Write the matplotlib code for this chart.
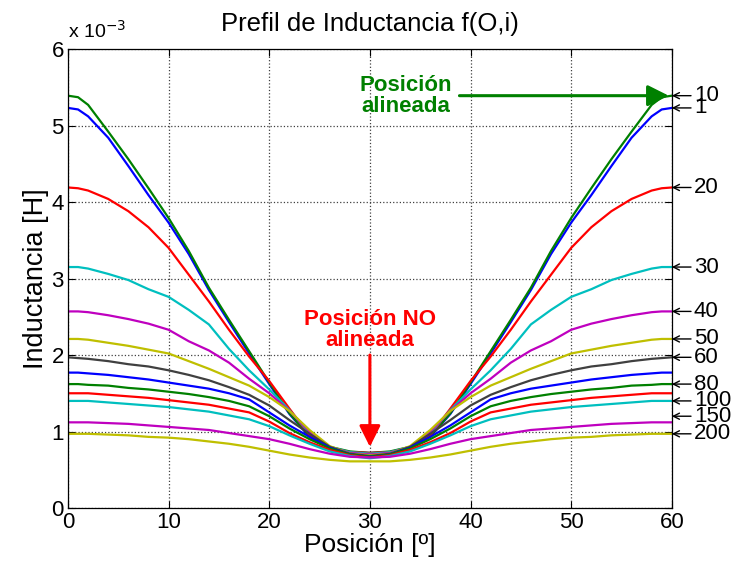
import numpy as np
import matplotlib
matplotlib.use("Agg")
from matplotlib import pyplot as plt

plt.rcParams['font.family'] = ['Liberation Sans', 'DejaVu Sans']

# posición [º] (mitad del perfil, simétrico respecto a 30º)
pos_half = [0, 1, 2, 4, 6, 8, 10, 12, 14, 16, 18, 20, 22, 24, 26, 28, 30]

# corrientes [A]
corrientes = [1, 10, 20, 30, 40, 50, 60, 70, 80, 90, 100, 150, 200]

# inductancia [x 1e-3 H] para cada corriente (0..30º)
L_1 = [5.23, 5.21, 5.12, 4.84, 4.47, 4.09, 3.73, 3.32, 2.85, 2.43, 2.02, 1.62, 1.23, 0.93, 0.79, 0.73, 0.72]
L_10 = [5.39, 5.37, 5.27, 4.92, 4.56, 4.18, 3.79, 3.36, 2.88, 2.46, 2.05, 1.64, 1.24, 0.94, 0.80, 0.74, 0.72]
L_20 = [4.19, 4.18, 4.15, 4.04, 3.88, 3.67, 3.40, 3.05, 2.70, 2.33, 1.98, 1.66, 1.30, 0.95, 0.79, 0.73, 0.72]
L_30 = [3.15, 3.15, 3.13, 3.06, 2.98, 2.86, 2.76, 2.59, 2.40, 2.08, 1.80, 1.55, 1.28, 0.98, 0.80, 0.73, 0.71]
L_40 = [2.57, 2.57, 2.56, 2.52, 2.47, 2.41, 2.33, 2.18, 2.06, 1.90, 1.69, 1.50, 1.27, 1.00, 0.80, 0.72, 0.70]
L_50 = [2.21, 2.21, 2.20, 2.16, 2.12, 2.07, 2.02, 1.92, 1.82, 1.71, 1.60, 1.45, 1.27, 1.02, 0.81, 0.71, 0.69]
L_60 = [1.97, 1.96, 1.95, 1.92, 1.88, 1.85, 1.80, 1.74, 1.67, 1.58, 1.48, 1.34, 1.15, 0.97, 0.80, 0.71, 0.68]
L_70 = [1.77, 1.77, 1.76, 1.74, 1.71, 1.68, 1.64, 1.60, 1.56, 1.50, 1.42, 1.25, 1.08, 0.93, 0.79, 0.70, 0.67]
L_80 = [1.62, 1.62, 1.61, 1.60, 1.57, 1.55, 1.52, 1.49, 1.45, 1.40, 1.33, 1.20, 1.04, 0.90, 0.78, 0.70, 0.67]
L_90 = [1.50, 1.50, 1.50, 1.48, 1.46, 1.44, 1.41, 1.38, 1.35, 1.30, 1.25, 1.13, 0.98, 0.86, 0.76, 0.69, 0.66]
L_100 = [1.40, 1.40, 1.40, 1.38, 1.36, 1.34, 1.32, 1.29, 1.26, 1.21, 1.16, 1.07, 0.95, 0.84, 0.74, 0.68, 0.65]
L_150 = [1.12, 1.12, 1.12, 1.11, 1.10, 1.08, 1.06, 1.04, 1.02, 0.98, 0.94, 0.90, 0.84, 0.77, 0.71, 0.67, 0.66]
L_200 = [0.97, 0.97, 0.97, 0.96, 0.95, 0.93, 0.92, 0.90, 0.87, 0.84, 0.80, 0.75, 0.70, 0.66, 0.63, 0.61, 0.61]

perfiles = [L_1, L_10, L_20, L_30, L_40, L_50, L_60, L_70, L_80, L_90, L_100, L_150, L_200]

# corrientes con etiqueta a la derecha
etiquetas = [10, 1, 20, 30, 40, 50, 60, 80, 100, 150, 200]

# colores de matlab (orden antiguo)
colores = [(0, 0, 1), (0, 0.5, 0), (1, 0, 0), (0, 0.75, 0.75),
           (0.75, 0, 0.75), (0.75, 0.75, 0), (0.25, 0.25, 0.25)]

# perfil completo 0..60 por simetría
pos_half = np.array(pos_half, dtype=float)
pos = np.concatenate([pos_half, 60 - pos_half[::-1][1:]])

fig = plt.figure(figsize=(7.35, 5.68), dpi=100)
ax = fig.add_axes([0.0925, 0.1056, 0.8215, 0.8081])

for i, (I, L) in enumerate(zip(corrientes, perfiles)):
    L = np.array(L)
    Lfull = np.concatenate([L, L[::-1][1:]])
    ax.plot(pos, Lfull, color=colores[i % len(colores)], lw=1.6)

ax.set_xlim(0, 60)
ax.set_ylim(0, 6)
ax.set_xticks(range(0, 61, 10))
ax.set_yticks(range(0, 7))
ax.grid(True, color='#404040', linestyle=':', linewidth=0.9)
ax.tick_params(direction='in', labelsize=16, top=True, right=True, length=5, pad=3)
for s in ax.spines.values():
    s.set_linewidth(0.9)

ax.set_xlabel('Posición [º]', fontsize=19, labelpad=0)
ax.set_ylabel('Inductancia [H]', fontsize=19.5, labelpad=2)
ax.set_title('Prefil de Inductancia f(O,i)', fontsize=18.5, pad=13)
ax.text(0, 1.015, r'x 10$^{-3}$', transform=ax.transAxes, fontsize=14,
        ha='left', va='bottom')

# etiquetas de corriente (flecha fina hacia el final de cada curva)
ajuste = {150: 0.08}
for I in etiquetas:
    L = perfiles[corrientes.index(I)]
    y = L[0] + ajuste.get(I, 0)
    ax.annotate(str(I), xy=(60, y), xytext=(22, 0), textcoords='offset pixels',
                fontsize=16, ha='left', va='center', annotation_clip=False,
                arrowprops=dict(arrowstyle='->', lw=1.0, color='black',
                                mutation_scale=11, shrinkA=0, shrinkB=0))

# posición alineada
verde = (0, 0.5, 0)
ax.text(33.6, 5.38, 'Posición\nalineada', color=verde, fontsize=16,
        fontweight='bold', ha='center', va='center', linespacing=1.0)
ax.annotate('', xy=(59.7, L_10[0]), xytext=(38.9, L_10[0]),
            arrowprops=dict(arrowstyle='-|>', color=verde, lw=2.2,
                            mutation_scale=32, shrinkA=0, shrinkB=0))

# posición no alineada
ax.text(30, 2.33, 'Posición NO\nalineada', color='red', fontsize=16,
        fontweight='bold', ha='center', va='center', linespacing=1.0)
ax.annotate('', xy=(30, 0.80), xytext=(30, 2.0),
            arrowprops=dict(arrowstyle='-|>', color='red', lw=2.2,
                            mutation_scale=32, shrinkA=0, shrinkB=0))

plt.savefig('out.png', dpi=100)
